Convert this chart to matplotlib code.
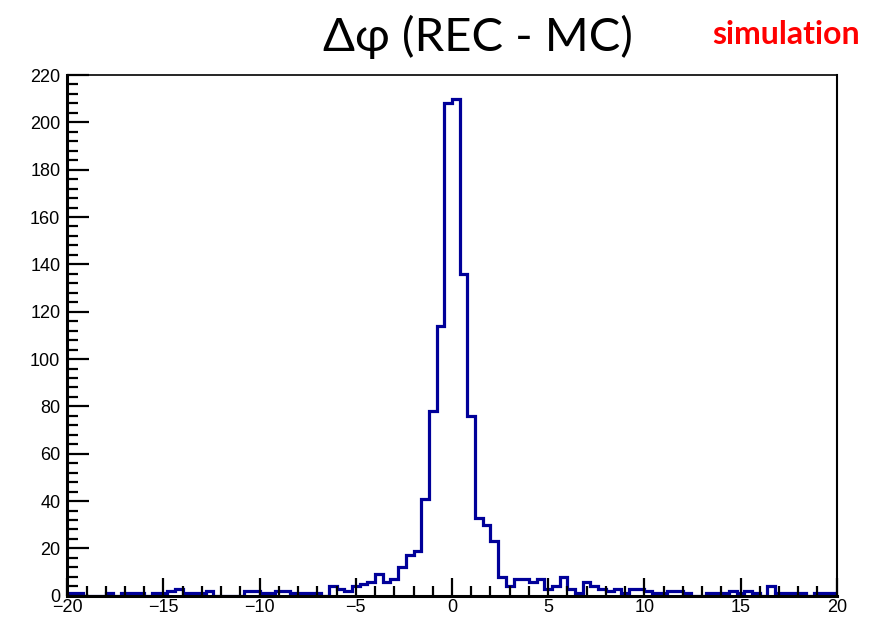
import numpy as np
import matplotlib
matplotlib.use("Agg")
import matplotlib.pyplot as plt
from matplotlib.ticker import MultipleLocator

# histogram of delta-phi (REC - MC), 100 bins from -20 to 20
x_min, x_max, n_bins = -20, 20, 100
counts = [
    1, 1, 0, 0, 0, 1, 0, 1, 1, 1,
    0, 1, 1, 2, 3, 1, 1, 1, 2, 0,
    0, 0, 0, 2, 2, 1, 1, 2, 2, 1,
    1, 1, 1, 0, 4, 3, 2, 4, 5, 6,
    9, 6, 7, 12, 17, 19, 41, 78, 114, 208,
    210, 136, 76, 33, 30, 23, 8, 4, 7, 7,
    6, 7, 3, 4, 8, 3, 1, 6, 4, 3,
    2, 3, 1, 3, 3, 2, 1, 1, 2, 2,
    1, 0, 0, 1, 1, 1, 2, 1, 2, 1,
    0, 4, 1, 1, 1, 1, 0, 1, 1, 1,
]
edges = np.linspace(x_min, x_max, n_bins + 1)

fig = plt.figure(figsize=(8.84, 6.19), dpi=100)
ax = fig.add_axes([0.0761, 0.0376, 0.8704, 0.8412])

ax.stairs(counts, edges, color="#000099", linewidth=2.3)

ax.set_xlim(x_min, x_max)
ax.set_ylim(0, 220)

ax.xaxis.set_major_locator(MultipleLocator(5))
ax.xaxis.set_minor_locator(MultipleLocator(1))
ax.yaxis.set_major_locator(MultipleLocator(20))
ax.yaxis.set_minor_locator(MultipleLocator(4))

ax.tick_params(axis="both", which="both", direction="in", top=False, right=False,
               width=1.6, color="black")
ax.tick_params(axis="y", which="major", length=16, labelsize=13, pad=5)
ax.tick_params(axis="y", which="minor", length=8)
ax.tick_params(axis="x", which="major", length=13, labelsize=13, pad=2)
ax.tick_params(axis="x", which="minor", length=7)
for lab in ax.get_xticklabels() + ax.get_yticklabels():
    lab.set_family("Liberation Sans")

ax.spines["left"].set_linewidth(2.2)
ax.spines["bottom"].set_linewidth(2.2)
ax.spines["top"].set_linewidth(1.2)
ax.spines["right"].set_linewidth(1.5)

fig.text(0.541, 0.94, "Δφ (REC - MC)", ha="center", va="center",
         fontsize=34, family="Lato")
fig.text(0.889, 0.944, "simulation", ha="center", va="center",
         fontsize=23, family="Lato", weight="bold", color="#ff0000")

fig.savefig("out.png", dpi=100)
